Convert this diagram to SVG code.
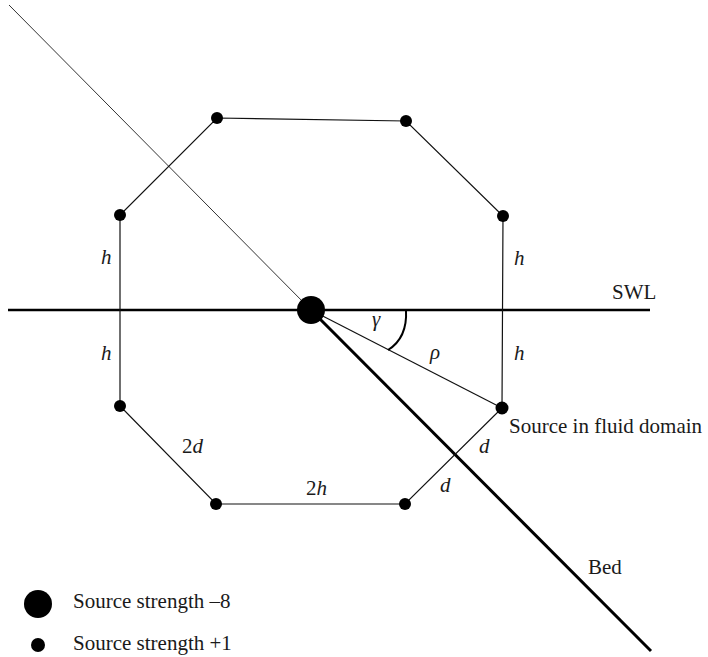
<svg xmlns="http://www.w3.org/2000/svg" width="708" height="657" viewBox="0 0 708 657">
<style>
.t{font-family:"Liberation Serif","Times New Roman",serif;font-size:21px;fill:#1a1a1a}
.i{font-style:italic}
.e{stroke:#111;stroke-width:1.2;fill:none}
.dot{fill:#000}
</style>
<rect width="708" height="657" fill="#fff"/>
<g id="connectors">
<line x1="9" y1="5" x2="311" y2="310" stroke="#333" stroke-width="1"/>
<line x1="8" y1="310" x2="650" y2="310" stroke="#000" stroke-width="2.5"/>
<line x1="311" y1="310" x2="651" y2="651" stroke="#000" stroke-width="3"/>
<line x1="311" y1="310" x2="502" y2="408" class="e"/>
<path d="M406,310 C407,328 401,342 388,350" stroke="#000" stroke-width="2" fill="none"/>
<polygon points="217,118 406,121 503,216 502,408 405,504 216,504 120,406 120,215" class="e"/>
</g>
<g id="center"><circle cx="311" cy="310" r="14" class="dot"/></g>
<g id="n1"><circle cx="217" cy="118" r="6" class="dot"/></g>
<g id="n2"><circle cx="406" cy="121" r="6" class="dot"/></g>
<g id="n3"><circle cx="503" cy="216" r="6" class="dot"/></g>
<g id="n4"><circle cx="502" cy="408" r="6.5" class="dot"/></g>
<g id="n5"><circle cx="405" cy="504" r="6" class="dot"/></g>
<g id="n6"><circle cx="216" cy="504" r="6" class="dot"/></g>
<g id="n7"><circle cx="120" cy="406" r="6" class="dot"/></g>
<g id="n8"><circle cx="120" cy="215" r="6" class="dot"/></g>
<g id="labels">
<text class="t i" x="101" y="264">h</text>
<text class="t i" x="101" y="360">h</text>
<text class="t i" x="514" y="265">h</text>
<text class="t i" x="514" y="360">h</text>
<text class="t" x="612" y="299">SWL</text>
<text class="t i" x="372" y="326">γ</text>
<text class="t i" x="430" y="359">ρ</text>
<text class="t" x="509" y="433">Source in fluid domain</text>
<text class="t i" x="479" y="453">d</text>
<text class="t i" x="440" y="492">d</text>
<text class="t" x="182" y="453">2<tspan class="i">d</tspan></text>
<text class="t" x="306" y="495">2<tspan class="i">h</tspan></text>
<text class="t" x="588" y="574">Bed</text>
</g>
<g id="legend">
<circle cx="38" cy="604" r="14" class="dot"/>
<circle cx="38" cy="645" r="7" class="dot"/>
<text class="t" x="73" y="608">Source strength –8</text>
<text class="t" x="73" y="650">Source strength +1</text>
</g>
</svg>
